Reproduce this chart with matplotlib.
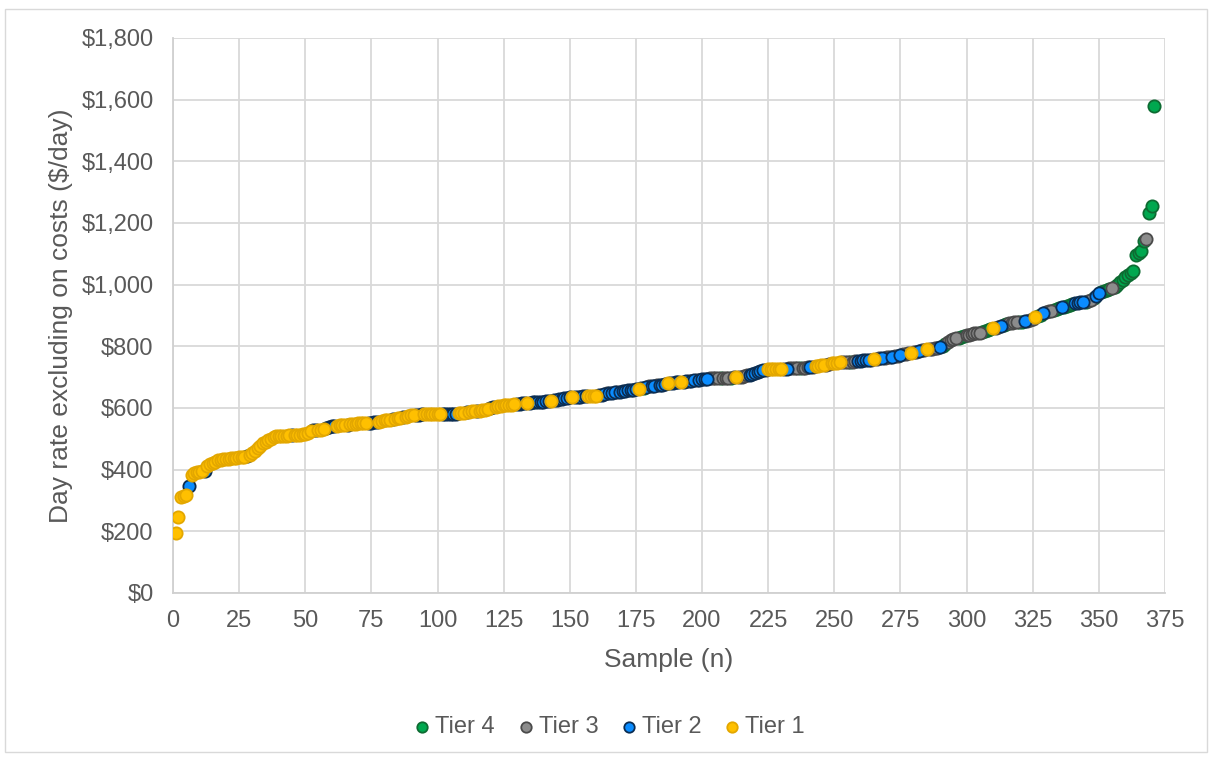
import matplotlib
matplotlib.use("Agg")
import matplotlib.pyplot as plt
from matplotlib.ticker import FuncFormatter, MultipleLocator
from matplotlib.patches import Rectangle

plt.rcParams['font.family'] = ['Liberation Sans', 'DejaVu Sans']

# day rate for every sample, sorted low to high (sample n = 1..371)
day_rate = [
    196, 247, 310, 313, 318, 347, 383, 390, 392, 393,
    394, 396, 412, 418, 422, 425, 430, 432, 433, 434,
    435, 437, 438, 439, 440, 441, 442, 444, 448, 455,
    462, 470, 478, 485, 490, 495, 500, 505, 508, 510,
    510, 510, 510, 511, 512, 512, 512, 513, 514, 516,
    520, 525, 527, 528, 529, 530, 532, 535, 538, 540,
    542, 543, 544, 545, 545, 546, 547, 548, 549, 550,
    550, 550, 551, 551, 552, 553, 555, 556, 558, 560,
    561, 562, 563, 565, 566, 568, 570, 572, 574, 576,
    577, 578, 578, 579, 580, 580, 580, 580, 580, 580,
    580, 580, 580, 580, 580, 581, 582, 583, 584, 585,
    586, 588, 589, 590, 590, 591, 592, 595, 598, 600,
    602, 604, 606, 608, 610, 610, 610, 611, 612, 613,
    614, 615, 615, 616, 617, 618, 619, 620, 620, 621,
    622, 623, 624, 625, 626, 628, 630, 631, 632, 634,
    635, 636, 637, 637, 638, 638, 639, 639, 640, 640,
    641, 643, 645, 647, 648, 650, 651, 652, 653, 655,
    656, 657, 658, 659, 660, 662, 664, 666, 668, 670,
    671, 672, 674, 675, 676, 678, 680, 681, 682, 683,
    683, 684, 685, 686, 688, 689, 690, 691, 692, 693,
    694, 695, 696, 696, 696, 696, 696, 697, 697, 698,
    698, 699, 700, 701, 702, 704, 706, 708, 711, 714,
    717, 720, 722, 724, 725, 725, 725, 726, 726, 727,
    727, 728, 729, 729, 729, 730, 730, 731, 731, 732,
    732, 734, 736, 737, 738, 739, 740, 742, 745, 746,
    747, 748, 748, 749, 749, 750, 750, 751, 752, 753,
    754, 755, 756, 757, 759, 760, 761, 762, 763, 764,
    765, 766, 768, 770, 772, 774, 776, 778, 779, 781,
    783, 785, 788, 789, 790, 791, 792, 794, 795, 797,
    801, 808, 815, 820, 824, 826, 828, 830, 833, 836,
    838, 840, 842, 843, 844, 846, 849, 852, 855, 858,
    861, 864, 866, 869, 872, 875, 877, 878, 879, 880,
    880, 881, 883, 886, 890, 895, 899, 903, 907, 910,
    913, 916, 919, 921, 923, 926, 929, 932, 935, 938,
    940, 941, 943, 944, 945, 947, 950, 956, 964, 972,
    977, 980, 983, 985, 988, 992, 1000, 1008, 1016, 1024,
    1030, 1038, 1043, 1096, 1103, 1110, 1140, 1147, 1231, 1255,
    1580,
]

# tier of each sample, same order as day_rate
tier_codes = "".join([
    "1111121111", "1211111111", "1111111211", "1111111111", "1111211111",
    "1122111222", "2111121111", "1112222111", "1121112111", "1222111111",
    "1222222111", "2111211112", "2111111112", "2221222222", "2212222222",
    "1222221111", "2223222322", "2222212423", "2232221222", "2122322322",
    "2233334333", "4313333222", "2223111111", "3233334333", "2311113311",
    "1133343322", "2223133233", "3233233313", "3233133332", "4433334443",
    "3333344441", "3324433334", "4233314423", "3344424444", "2222433422",
    "4444344444", "44444443444",
])

tiers = ["Tier 4", "Tier 3", "Tier 2", "Tier 1"]
fill_colors = {"Tier 4": "#00A84F", "Tier 3": "#8C8C8C", "Tier 2": "#0A8CFF", "Tier 1": "#FFC000"}
edge_colors = {"Tier 4": "#0E6B32", "Tier 3": "#4A4A4A", "Tier 2": "#0B2D52", "Tier 1": "#E3A700"}

samples = list(range(1, len(day_rate) + 1))

fig = plt.figure(figsize=(12.14, 7.58), dpi=100)
ax = fig.add_axes([0.1425, 0.2177, 0.8171, 0.7322])

# tier 4 goes down first, tier 1 ends up on top
for name in tiers:
    code = name[-1]
    xs = [n for n, t in zip(samples, tier_codes) if t == code]
    ys = [v for v, t in zip(day_rate, tier_codes) if t == code]
    ax.scatter(xs, ys, s=78, c=fill_colors[name], edgecolors=edge_colors[name],
               linewidths=1.3, label=name, zorder=3)

ax.set_xlim(0, 375)
ax.set_ylim(0, 1800)
ax.xaxis.set_major_locator(MultipleLocator(25))
ax.yaxis.set_major_locator(MultipleLocator(200))
ax.yaxis.set_major_formatter(FuncFormatter(lambda v, p: f"${v:,.0f}"))

ax.grid(True, color="#D9D9D9", linewidth=1.3, zorder=0)
ax.set_axisbelow(True)
for side in ["top", "right"]:
    ax.spines[side].set_visible(False)
for side in ["left", "bottom"]:
    ax.spines[side].set_color("#D0D0D0")
    ax.spines[side].set_linewidth(1.3)

ax.tick_params(axis="both", length=0, labelsize=17, labelcolor="#595959")
ax.tick_params(axis="y", pad=14)
ax.tick_params(axis="x", pad=12)

ax.set_xlabel("Sample (n)", fontsize=19, color="#595959", labelpad=12)
ax.set_ylabel("Day rate excluding on costs ($/day)", fontsize=19, color="#595959", labelpad=6)

leg = fig.legend(*ax.get_legend_handles_labels(), loc="center", bbox_to_anchor=(0.5025, 0.041),
                 ncol=4, frameon=False, fontsize=17, handlelength=0.6, handletextpad=0.25,
                 columnspacing=1.0, markerscale=0.85)
for txt in leg.get_texts():
    txt.set_color("#595959")

fig.patches.append(Rectangle((0.004, 0.008), 0.99, 0.98, transform=fig.transFigure,
                             fill=False, edgecolor="#D9D9D9", linewidth=1))

fig.savefig("out.png", dpi=100)
